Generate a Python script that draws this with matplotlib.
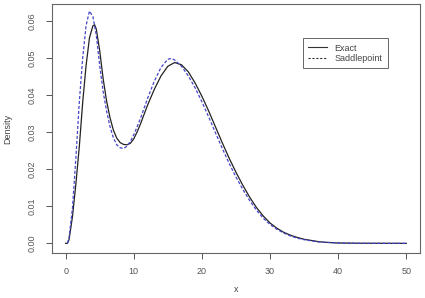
import matplotlib
matplotlib.use("Agg")
import matplotlib.pyplot as plt
from matplotlib.lines import Line2D

plt.rcParams['font.family'] = ['Liberation Sans', 'DejaVu Sans']

# --- values --- #
x_exact = [0, 0.25, 0.5, 1.0, 1.5, 2.0, 2.5, 3.0, 3.5, 4.0, 4.25, 4.5, 5.0,
           5.5, 6.0, 6.5, 7.0, 7.5, 8.0, 8.5, 9.0, 9.5, 10, 10.5, 11, 12, 13,
           14, 15, 16, 17, 18, 19, 20, 21, 22, 23, 24, 25, 26, 27, 28, 29, 30,
           31, 32, 33, 34, 35, 36, 37, 38, 40, 43, 50]
y_exact = [0, 0, 0.001, 0.0072, 0.016, 0.026, 0.038, 0.048, 0.0555, 0.0587,
           0.0590, 0.0578, 0.0520, 0.0445, 0.0385, 0.0340, 0.0306, 0.0284,
           0.0272, 0.0267, 0.0266, 0.0270, 0.0282, 0.0301, 0.0323, 0.0372,
           0.0415, 0.0452, 0.0478, 0.0488, 0.0482, 0.0463, 0.0433, 0.0397,
           0.0357, 0.0314, 0.0271, 0.0230, 0.0192, 0.0157, 0.0125, 0.0097,
           0.0074, 0.0055, 0.0041, 0.0030, 0.0022, 0.0016, 0.0011, 0.0008,
           0.0005, 0.0003, 0.0001, 0.00003, 0]

x_saddle = [0.25, 0.5, 1.0, 1.5, 2.0, 2.5, 3.0, 3.5, 4.0, 4.5, 5.0, 5.5, 6.0,
            6.5, 7.0, 7.5, 8.0, 8.5, 9.0, 9.5, 10, 10.5, 11, 12, 13, 14, 15,
            15.5, 16, 17, 18, 19, 20, 21, 22, 23, 24, 25, 26, 27, 28, 29, 30,
            31, 32, 33, 34, 35, 36, 37, 38, 40, 43, 50]
y_saddle = [0, 0.0015, 0.0095, 0.023, 0.038, 0.050, 0.0588, 0.0627, 0.0612,
            0.0562, 0.0480, 0.0410, 0.0358, 0.0316, 0.0285, 0.0266, 0.0258,
            0.0256, 0.0262, 0.0275, 0.0293, 0.0315, 0.0338, 0.0390, 0.0437,
            0.0475, 0.0497, 0.0499, 0.0495, 0.0478, 0.0452, 0.0420, 0.0382,
            0.0341, 0.0298, 0.0256, 0.0216, 0.0179, 0.0146, 0.0116, 0.0090,
            0.0068, 0.0051, 0.0038, 0.0028, 0.0020, 0.0014, 0.0010, 0.0007,
            0.0004, 0.0003, 0.0001, 0.00003, 0]

x_ticks = [0, 10, 20, 30, 40, 50]
y_ticks = [0.00, 0.01, 0.02, 0.03, 0.04, 0.05, 0.06]

grey = "#555555"

fig = plt.figure(figsize=(4.25, 2.98), dpi=100)
ax = fig.add_axes([0.1224, 0.151, 0.8656, 0.8356])

ax.plot(x_exact, y_exact, color="#222222", lw=0.9, label="Exact")
ax.plot(x_saddle, y_saddle, color="#4444cc", lw=0.9, ls=(0, (2.5, 1.5)),
        label="Saddlepoint")

ax.set_xlim(-2, 52)
ax.set_ylim(-0.0026, 0.0646)
ax.set_xticks(x_ticks)
ax.set_yticks(y_ticks)
ax.set_xticklabels([str(t) for t in x_ticks])
ax.set_yticklabels(["%.2f" % t for t in y_ticks], rotation=90, va="center")
ax.tick_params(direction="out", length=4.3, width=0.7, colors=grey,
               labelsize=6.5)
ax.tick_params(axis="x", pad=5.5)
ax.tick_params(axis="y", pad=6.5)
for s in ax.spines.values():
    s.set_color("#666666")
    s.set_linewidth(0.8)

ax.set_xlabel("x", fontsize=6.5, color="#444444", va="center")
ax.set_ylabel("Density", fontsize=6.5, color="#444444", va="center")
ax.xaxis.set_label_coords(0.5, -0.145)
ax.yaxis.set_label_coords(-0.1196, 0.5)

# legend lines kept black like the R default
handles = [Line2D([], [], color="#333333", lw=0.8),
           Line2D([], [], color="#333333", lw=0.8, ls=(0, (2, 1.5)))]
leg = ax.legend(handles, ["Exact", "Saddlepoint"], loc="upper left",
                bbox_to_anchor=(0.682, 0.863), borderaxespad=0, fancybox=False,
                fontsize=6.5, handlelength=2.1, handletextpad=0.8,
                labelspacing=0.15, borderpad=0.6, framealpha=1)
leg.get_frame().set_edgecolor("#666666")
leg.get_frame().set_linewidth(0.7)
for t in leg.get_texts():
    t.set_color("#444444")

fig.savefig("out.png", dpi=100)
